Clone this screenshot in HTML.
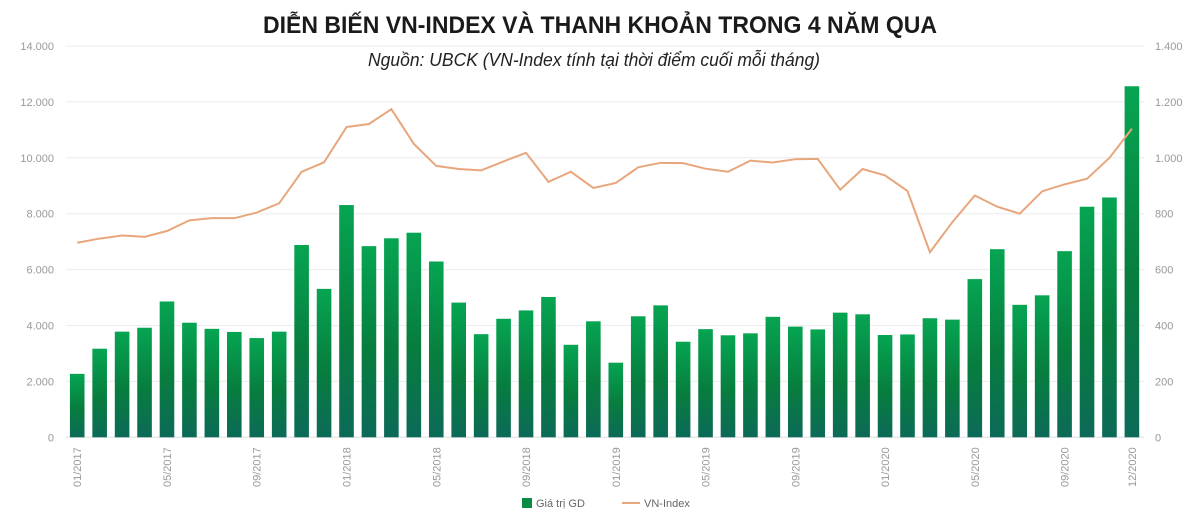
<!DOCTYPE html>
<html><head><meta charset="utf-8"><style>
body{margin:0;background:#fff;width:1200px;height:511px;overflow:hidden;font-family:"Liberation Sans",sans-serif}
</style></head><body>
<svg id="c" width="1200" height="511">
<defs><linearGradient id="g" x1="0" y1="0" x2="0" y2="1">
<stop offset="0" stop-color="#06a552"/><stop offset="0.55" stop-color="#077d3e"/><stop offset="1" stop-color="#0c6a58"/></linearGradient></defs>
<text x="600" y="33" text-anchor="middle" font-size="24" font-weight="bold" fill="#1a1a1a" textLength="674" lengthAdjust="spacingAndGlyphs">DIỄN BIẾN VN-INDEX VÀ THANH KHOẢN TRONG 4 NĂM QUA</text>
<text x="594" y="66" text-anchor="middle" font-size="18" font-style="italic" fill="#222" textLength="452" lengthAdjust="spacingAndGlyphs">Nguồn: UBCK (VN-Index tính tại thời điểm cuối mỗi tháng)</text>
<g id="grid"></g><g id="bars"></g><g id="line"></g><g id="axes"></g>
<g>
<rect x="522" y="498" width="10" height="10" fill="#0a8a45"/>
<text x="536" y="507" font-size="11" fill="#666">Giá trị GD</text>
<line x1="622" y1="503" x2="640" y2="503" stroke="#e8a67c" stroke-width="2"/>
<text x="644" y="507" font-size="11" fill="#666">VN-Index</text>
</g>
</svg>
<script>
const months=["01/2017","02/2017","03/2017","04/2017","05/2017","06/2017","07/2017","08/2017","09/2017","10/2017","11/2017","12/2017","01/2018","02/2018","03/2018","04/2018","05/2018","06/2018","07/2018","08/2018","09/2018","10/2018","11/2018","12/2018","01/2019","02/2019","03/2019","04/2019","05/2019","06/2019","07/2019","08/2019","09/2019","10/2019","11/2019","12/2019","01/2020","02/2020","03/2020","04/2020","05/2020","06/2020","07/2020","08/2020","09/2020","10/2020","11/2020","12/2020"];
const values=[2270,3170,3780,3920,4860,4100,3880,3770,3550,3780,6880,5310,8310,6840,7120,7320,6290,4820,3690,4240,4540,5020,3310,4150,2670,4330,4720,3420,3870,3650,3720,4310,3960,3860,4460,4400,3660,3680,4260,4210,5660,6730,4740,5080,6660,8250,8580,12560];
const vnindex=[696,711,722,717,738,776,784,784,804,837,950,984,1110,1121,1174,1050,971,960,955,987,1018,914,950,892,910,966,982,981,961,950,990,983,995,996,886,960,937,881,662,770,865,825,800,880,905,925,1000,1104];
const leftTicks=[0,2000,4000,6000,8000,10000,12000,14000];
const rightTicks=[0,200,400,600,800,1000,1200,1400];
const shownLabels=["01/2017","05/2017","09/2017","01/2018","05/2018","09/2018","01/2019","05/2019","09/2019","01/2020","05/2020","09/2020","12/2020"];
const NS="http://www.w3.org/2000/svg";
const x0=66,band=22.44,y0=437.3,yTop=46;
const xC=i=>x0+band*(i+0.5);
const yL=v=>y0-(v/14000)*(y0-yTop);
const yR=v=>y0-(v/1400)*(y0-yTop);
const fmt=v=>v.toLocaleString('de-DE');
function mk(t,a,p){const e=document.createElementNS(NS,t);for(const k in a)e.setAttribute(k,a[k]);p.appendChild(e);return e;}
const G=document.getElementById('grid'),B=document.getElementById('bars'),L=document.getElementById('line'),A=document.getElementById('axes');
leftTicks.forEach((t,i)=>{
 const ln=mk('line',{x1:66,x2:1144,y1:yL(t),y2:yL(t),stroke:i==0?'#ddd':'#ececec','stroke-width':1},G);
 
 
 const tx=mk('text',{x:54,y:yL(t)+4,'text-anchor':'end','font-size':11,fill:'#999'},A);
 tx.textContent=fmt(t);
 
 
});
rightTicks.forEach(t=>{
 const tx=mk('text',{x:1155,y:yR(t)+4,'font-size':11,fill:'#999'},A);
 tx.textContent=fmt(t);
 
 
});
values.forEach((v,i)=>{
 const r=mk('rect',{x:xC(i)-7.3,y:yL(v),width:14.6,height:y0-yL(v),fill:'url(#g)'},B);
 
 
});
const pl=mk('polyline',{points:vnindex.map((v,i)=>xC(i)+','+yR(v)).join(' '),fill:'none',stroke:'#e8a67c','stroke-width':2},L);


months.forEach((m,i)=>{
 if(!shownLabels.includes(m))return;
 const x=xC(i)+4,y=487;
 const tx=mk('text',{x:x,y:y,transform:`rotate(-90 ${x} ${y})`,'font-size':11,fill:'#999'},A);
 tx.textContent=m;
 
 
});
</script>
</body></html>
